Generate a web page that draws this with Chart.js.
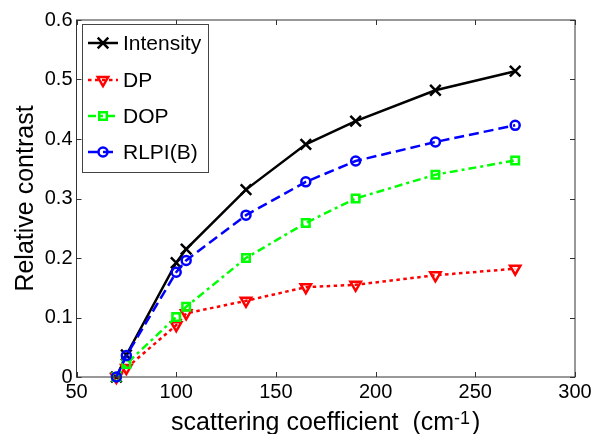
<!DOCTYPE html>
<html>
<head>
<meta charset="utf-8">
<style>
  html, body { margin: 0; padding: 0; background: #ffffff; }
  #chart { display: block; }
</style>
<script src="https://cdn.jsdelivr.net/npm/chart.js@4.4.1/dist/chart.umd.min.js"></script>
</head>
<body>
<canvas id="chart" width="604" height="434"></canvas>
<script>
// Scattering coefficient (cm^-1) at which each contrast was measured
const scattering = [70, 75, 100, 105, 135, 165, 190, 230, 270];

// Relative contrast for each imaging method
const intensity = [0, 0.037, 0.192, 0.215, 0.315, 0.391, 0.430, 0.482, 0.514];
const dp        = [0, 0.015, 0.087, 0.107, 0.128, 0.151, 0.155, 0.171, 0.182];
const dop       = [0, 0.022, 0.101, 0.118, 0.200, 0.259, 0.300, 0.340, 0.364];
const rlpi      = [0, 0.036, 0.176, 0.196, 0.272, 0.328, 0.363, 0.395, 0.423];

const seriesNames = ['Intensity', 'DP', 'DOP', 'RLPI(B)'];

// Axis ranges and labels
const xTicks = [50, 100, 150, 200, 250, 300];
const yTicks = [0, 0.1, 0.2, 0.3, 0.4, 0.5, 0.6];
const xTitle = 'scattering coefficient  (cm';
const xTitleSup = '-1';
const yTitle = 'Relative contrast';

const FONT = '"Liberation Sans", Arial, Helvetica, sans-serif';
const AXIS_COLOR = '#333333';

function pts(ys) {
  return scattering.map((x, i) => ({ x: x, y: ys[i] }));
}

const styles = [
  { color: '#000000', dash: [],            pointStyle: 'crossRot', radius: 7.5, rotation: 0 },
  { color: '#ff0000', dash: [3.5, 3.5],    pointStyle: 'triangle', radius: 6,   rotation: 180 },
  { color: '#00ff00', dash: [8, 4, 3, 4],  pointStyle: 'rect',     radius: 5.3, rotation: 0 },
  { color: '#0000ff', dash: [10, 5],       pointStyle: 'circle',   radius: 4.5, rotation: 0 }
];
const values = [intensity, dp, dop, rlpi];

const datasets = values.map((v, i) => ({
  label: seriesNames[i],
  data: pts(v),
  borderColor: styles[i].color,
  borderWidth: 2.5,
  borderDash: styles[i].dash,
  pointStyle: styles[i].pointStyle,
  pointRadius: styles[i].radius,
  pointRotation: styles[i].rotation,
  pointBorderColor: styles[i].color,
  pointBackgroundColor: 'rgba(0,0,0,0)',
  pointBorderWidth: 2.5,
  pointHoverRadius: styles[i].radius,
  tension: 0,
  clip: false,
  order: values.length - 1 - i
}));

// Box around the plot with inward tick marks on all four sides
const frameTicks = {
  id: 'frameTicks',
  afterDatasetsDraw(chart) {
    const { ctx, chartArea: a, scales } = chart;
    const len = 5;
    ctx.save();
    ctx.strokeStyle = AXIS_COLOR;
    ctx.lineWidth = 1;
    ctx.setLineDash([]);
    ctx.strokeRect(a.left, a.top, a.right - a.left, a.bottom - a.top);
    ctx.beginPath();
    scales.x.ticks.forEach(t => {
      const px = Math.round(scales.x.getPixelForValue(t.value)) + 0.5;
      ctx.moveTo(px, a.bottom); ctx.lineTo(px, a.bottom - len);
      ctx.moveTo(px, a.top);    ctx.lineTo(px, a.top + len);
    });
    scales.y.ticks.forEach(t => {
      const py = Math.round(scales.y.getPixelForValue(t.value)) + 0.5;
      ctx.moveTo(a.left, py);  ctx.lineTo(a.left + len, py);
      ctx.moveTo(a.right, py); ctx.lineTo(a.right - len, py);
    });
    ctx.stroke();
    ctx.restore();
  }
};

// Axis titles, with the superscripted unit on the x title
const axisTitles = {
  id: 'axisTitles',
  afterDraw(chart) {
    const { ctx, chartArea: a } = chart;
    ctx.save();
    ctx.fillStyle = '#000000';
    ctx.textBaseline = 'alphabetic';

    ctx.font = '25px ' + FONT;
    const mainW = ctx.measureText(xTitle).width;
    ctx.font = '18px ' + FONT;
    const supW = ctx.measureText(xTitleSup).width;
    ctx.font = '25px ' + FONT;
    const closeW = ctx.measureText(')').width;
    const total = mainW + supW + 2 + closeW;
    let x = (a.left + a.right) / 2 - total / 2;
    const base = 430;
    ctx.textAlign = 'left';
    ctx.fillText(xTitle, x, base);
    x += mainW;
    ctx.font = '18px ' + FONT;
    ctx.fillText(xTitleSup, x, base - 6);
    x += supW + 2;
    ctx.font = '25px ' + FONT;
    ctx.fillText(')', x, base);

    ctx.translate(33, (a.top + a.bottom) / 2);
    ctx.rotate(-Math.PI / 2);
    ctx.textAlign = 'center';
    ctx.fillText(yTitle, 0, 0);
    ctx.restore();
  }
};

// Legend box drawn inside the upper-left corner of the plot
const insideLegend = {
  id: 'insideLegend',
  afterDraw(chart) {
    const { ctx } = chart;
    const box = { x: 82.5, y: 24.5, w: 126, h: 148 };
    const rows = [43, 80, 116, 152];
    ctx.save();
    ctx.fillStyle = '#ffffff';
    ctx.fillRect(box.x, box.y, box.w, box.h);
    ctx.strokeStyle = '#444444';
    ctx.lineWidth = 1;
    ctx.strokeRect(box.x, box.y, box.w, box.h);
    chart.data.datasets.forEach((ds, i) => {
      const y = rows[i];
      ctx.strokeStyle = ds.borderColor;
      ctx.lineWidth = ds.borderWidth;
      ctx.setLineDash(ds.borderDash);
      ctx.beginPath();
      ctx.moveTo(88, y);
      ctx.lineTo(118, y);
      ctx.stroke();
      ctx.setLineDash([]);
      ctx.strokeStyle = ds.pointBorderColor;
      ctx.fillStyle = ds.pointBackgroundColor;
      ctx.lineWidth = ds.pointBorderWidth;
      Chart.helpers.drawPoint(ctx, {
        pointStyle: ds.pointStyle,
        radius: ds.pointRadius,
        rotation: ds.pointRotation,
        borderWidth: ds.pointBorderWidth
      }, 103, y);
      ctx.fillStyle = '#000000';
      ctx.font = '21px ' + FONT;
      ctx.textAlign = 'left';
      ctx.textBaseline = 'middle';
      ctx.fillText(ds.label, 123, y + 1);
    });
    ctx.restore();
  }
};

new Chart(document.getElementById('chart'), {
  type: 'line',
  data: { datasets: datasets },
  options: {
    responsive: false,
    animation: false,
    devicePixelRatio: 1,
    layout: { padding: { left: 0, right: 29, top: 20, bottom: 0 } },
    plugins: {
      legend: { display: false },
      tooltip: { enabled: false },
      title: { display: false }
    },
    scales: {
      x: {
        type: 'linear',
        min: xTicks[0],
        max: xTicks[xTicks.length - 1],
        afterBuildTicks(scale) { scale.ticks = xTicks.map(v => ({ value: v })); },
        ticks: {
          color: '#000000',
          font: { family: FONT, size: 20 },
          padding: 3,
          maxRotation: 0,
          autoSkip: false
        },
        grid: { display: false, drawTicks: false },
        border: { display: false },
        afterFit(scale) { scale.height = 57; }
      },
      y: {
        type: 'linear',
        min: yTicks[0],
        max: yTicks[yTicks.length - 1],
        afterBuildTicks(scale) { scale.ticks = yTicks.map(v => ({ value: v })); },
        ticks: {
          color: '#000000',
          font: { family: FONT, size: 20 },
          padding: 4,
          autoSkip: false,
          callback: v => String(Math.round(v * 10) / 10)
        },
        grid: { display: false, drawTicks: false },
        border: { display: false },
        afterFit(scale) { scale.width = 76.5; }
      }
    }
  },
  plugins: [frameTicks, axisTitles, insideLegend]
});
</script>
</body>
</html>
